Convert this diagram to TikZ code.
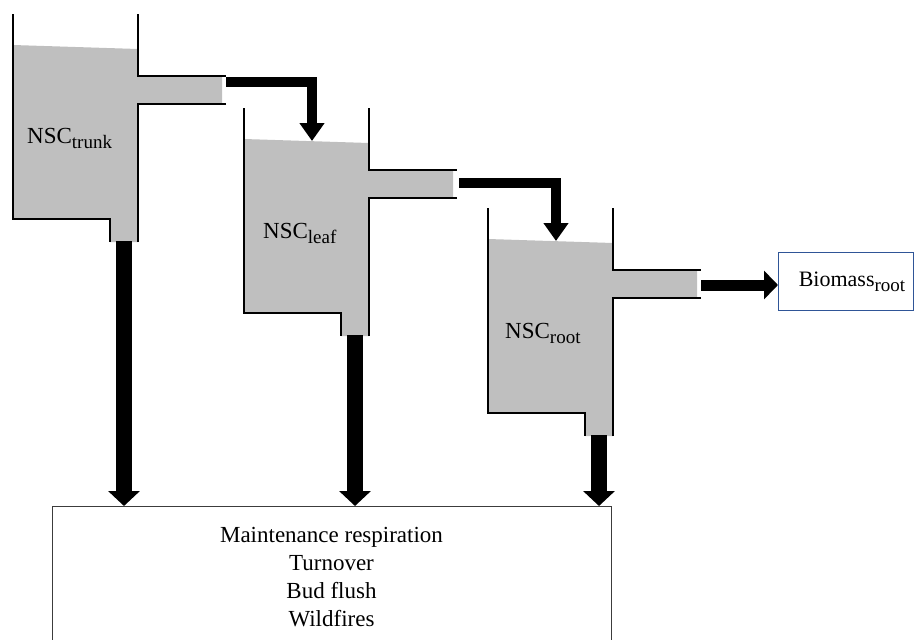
\documentclass[tikz,border=0pt]{standalone}
\usepackage{fontspec}
\setmainfont{Liberation Serif}
\usetikzlibrary{arrows.meta}
\definecolor{liquid}{RGB}{191,191,191}
\definecolor{bioblue}{RGB}{47,85,151}
\definecolor{boxline}{RGB}{60,60,60}
\newcommand\sbs[1]{\raisebox{-5pt}{\fontsize{19pt}{19pt}\selectfont #1}}
\tikzset{
  wall/.style={line width=2.6pt, line join=miter},
  liquidfill/.style={fill=liquid, draw=none},
  flow/.style={line width=10pt, line join=miter, -{Triangle[length=18pt,width=24pt]}},
  flowout/.style={line width=11pt, -{Triangle[length=14pt,width=28pt]}},
  drain/.style={line width=16pt, -{Triangle[length=15pt,width=31pt]}},
  bigtext/.style={font=\fontsize{23pt}{28pt}\selectfont, inner sep=0pt},
  tank/.pic={
    \fill[liquidfill] (0,31) -- (125,35) -- (125,62) -- (209,62) -- (209,90) -- (125,90)
       -- (125,228) -- (97,228) -- (97,205) -- (0,205) -- cycle;
    \draw[wall] (0,0) -- (0,205) -- (97,205) -- (97,228);
    \draw[wall] (125,0) -- (125,62) -- (213,62);
    \draw[wall] (213,90) -- (125,90) -- (125,228);
    \coordinate (-out) at (111,227);
    \coordinate (-in) at (68,33);
  }
}
\begin{document}
\begin{tikzpicture}[x=1pt,y=-1pt]
\useasboundingbox (0,0) rectangle (914,640);
\clip (0,0) rectangle (914,640);

% tanks
\pic (trunk) at (13,14) {tank};
\pic (leaf) at (244,108) {tank};
\pic (root) at (488,208) {tank};

% labels
\node[bigtext, anchor=base west] (ltrunk) at (27,143) {NSC\sbs{trunk}};
\node[bigtext, anchor=base west] (lleaf) at (263,238) {NSC\sbs{leaf}};
\node[bigtext, anchor=base west] (lroot) at (505,338) {NSC\sbs{root}};

% sink box
\node[draw=boxline, line width=1pt, minimum width=559pt, minimum height=200pt,
      anchor=north west, inner sep=0pt] (sink) at (52,506) {};
\foreach \t [count=\i] in {Maintenance respiration, Turnover, Bud flush, Wildfires}
  \node[bigtext, anchor=base] (sinkline\i) at (331.5,{514+28*\i}) {\t};

% biomass box
\node[draw=bioblue, line width=1pt, minimum width=135pt, minimum height=58pt,
      anchor=north west, inner sep=0pt,
      font=\fontsize{22pt}{26pt}\selectfont] (bio) at (778,252)
      {\hspace{12pt}Biomass\sbs{root}};

% flows between tanks
\coordinate (p1) at (226,82);
\coordinate (p2) at (459,183);
\coordinate (p3) at (701,285);
\draw[flow] (p1) -| (leaf-in);
\draw[flow] (p2) -| (root-in);
\draw[flowout] (p3) -- (p3 -| bio.west);

% drains
\draw[drain] (trunk-out) -- (trunk-out |- sink.north);
\draw[drain] (leaf-out) -- (leaf-out |- sink.north);
\draw[drain] (root-out) -- (root-out |- sink.north);
\end{tikzpicture}
\end{document}
